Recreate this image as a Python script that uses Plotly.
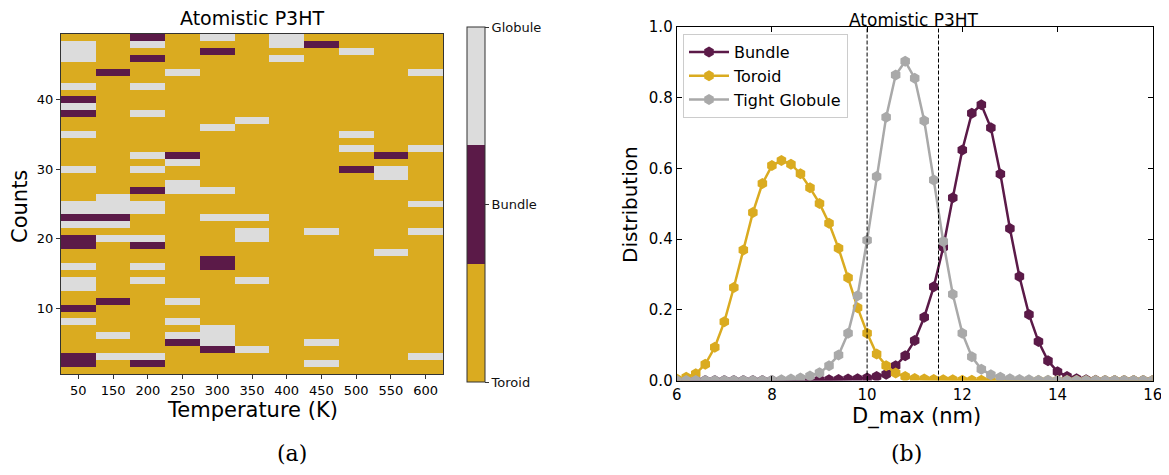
import plotly.graph_objects as go

# ---------------- data: panel (a) ----------------
temperatures = ["50", "150", "200", "250", "300", "350", "400", "450", "500", "550", "600"]
state_labels = ["Toroid", "Bundle", "Globule"]
state_code = {"T": 0, "B": 1, "G": 2}
# one string per count (top row = count 49), one character per temperature column
state_rows = [
    "TTBTGTGTTTT",  # 49
    "GTGTTTGBTTT",  # 48
    "GTTTBTTTGTT",  # 47
    "GTBTTTGTTTT",  # 46
    "TTTTTTTTTTT",  # 45
    "TBTGTTTTTTG",  # 44
    "TTTTTTTTTTT",  # 43
    "GTGTTTTTTTT",  # 42
    "TTTTTTTTTTT",  # 41
    "BTTTTTTTTTT",  # 40
    "GTTTTTTTTTT",  # 39
    "BTGTTTTTTTT",  # 38
    "TTTTTGTTTTT",  # 37
    "TTTTGTTTTTT",  # 36
    "GTTTTTTTGTT",  # 35
    "TTTTTTTTTTT",  # 34
    "TTTTTTTTGTG",  # 33
    "TTGBTTTTTBT",  # 32
    "TTTGTTTTTTT",  # 31
    "GTGTTTTTBGT",  # 30
    "TTTTTTTTTGT",  # 29
    "TTTGTTTTTTT",  # 28
    "TTBGGTTTTTT",  # 27
    "TGTTTTTTTTT",  # 26
    "GGGTTTTTTTG",  # 25
    "GGGTTTTTTTT",  # 24
    "BBTTGGTTTTT",  # 23
    "GGTTTTTTTTT",  # 22
    "TTTTTGTGTTG",  # 21
    "BGGTTGTTTTT",  # 20
    "BTBTTTTTTTT",  # 19
    "TTTTTTTTTGT",  # 18
    "TTTTBTTTTTT",  # 17
    "GTGTBTTTTTT",  # 16
    "TTTTTTTTTTT",  # 15
    "GTGTTGTTTTT",  # 14
    "GTTTTTTTTTT",  # 13
    "TTTTTTTTTTT",  # 12
    "TBTGTTTTTTT",  # 11
    "BTTTTTTTTTT",  # 10
    "TTTTTTTTTTT",  # 9
    "GTTGTTTTTTT",  # 8
    "TTTTGTTTTTT",  # 7
    "TGTGGTTTTTT",  # 6
    "TTTBGTTGTTT",  # 5
    "TTTTBGTTTTT",  # 4
    "BGGTTTTTTTG",  # 3
    "BTBTTTTGTTT",  # 2
    "TTTTTTTTTTT",  # 1
]
counts = list(range(49, 0, -1))

# ---------------- data: panel (b) ----------------
d_max = [6.0, 6.2, 6.4, 6.6, 6.8, 7.0, 7.2, 7.4, 7.6, 7.8,
         8.0, 8.2, 8.4, 8.6, 8.8, 9.0, 9.2, 9.4, 9.6, 9.8,
         10.0, 10.2, 10.4, 10.6, 10.8, 11.0, 11.2, 11.4, 11.6, 11.8,
         12.0, 12.2, 12.4, 12.6, 12.8, 13.0, 13.2, 13.4, 13.6, 13.8,
         14.0, 14.2, 14.4, 14.6, 14.8, 15.0, 15.2, 15.4, 15.6, 15.8, 16.0]
bundle = [0, 0, 0, 0, 0, 0, 0, 0, 0, 0,
          0, 0, 0, 0.001, 0.001, 0.002, 0.002, 0.003, 0.004, 0.005,
          0.007, 0.011, 0.018, 0.042, 0.07, 0.113, 0.179, 0.265, 0.377, 0.517,
          0.652, 0.756, 0.780, 0.715, 0.584, 0.43, 0.294, 0.187, 0.11, 0.056,
          0.025, 0.011, 0.005, 0.002, 0.001, 0, 0, 0, 0, 0, 0]
toroid = [0.004, 0.009, 0.019, 0.046, 0.094, 0.166, 0.263, 0.369, 0.475, 0.557,
          0.608, 0.622, 0.612, 0.585, 0.545, 0.501, 0.445, 0.374, 0.291, 0.206,
          0.134, 0.075, 0.042, 0.021, 0.011, 0.006, 0.004, 0.003, 0.002, 0.002,
          0.001, 0.001, 0.001, 0, 0, 0, 0, 0, 0, 0,
          0, 0, 0, 0, 0, 0, 0, 0, 0, 0, 0]
tight_globule = [0, 0, 0, 0, 0, 0, 0, 0, 0, 0,
                 0.001, 0.002, 0.004, 0.007, 0.013, 0.022, 0.042, 0.072, 0.134, 0.24,
                 0.397, 0.577, 0.745, 0.864, 0.903, 0.855, 0.735, 0.567, 0.393, 0.244,
                 0.134, 0.067, 0.032, 0.016, 0.009, 0.005, 0.003, 0.002, 0.001, 0.001,
                 0, 0, 0, 0, 0, 0, 0, 0, 0, 0, 0]
cutoffs = [10.0, 11.5]

# ---------------- styles / geometry ----------------
GOLD = "#DAAB20"
PURPLE = "#5B1A48"
LIGHT = "#DCDCDC"
GREY = "#A9A9A9"
FONT = "DejaVu Sans"
PAGE_W, PAGE_H = 1169, 475
BODY = 8                      # default page margin around the figure
W, H = PAGE_W - 2 * BODY, PAGE_H - 2 * BODY


def fx(px):  # page pixel -> paper x
    return (px - BODY) / W


def fy(py):  # page pixel (from top) -> paper y
    return (H - (py - BODY)) / H


z = [[state_code[c] for c in row] for row in state_rows]

fig = go.Figure()

fig.add_trace(go.Heatmap(
    x=temperatures, y=counts, z=z, zmin=0, zmax=2,
    colorscale=[[0, GOLD], [1/3, GOLD], [1/3, PURPLE], [2/3, PURPLE], [2/3, LIGHT], [1, LIGHT]],
    xaxis="x", yaxis="y",
    colorbar=dict(
        tickvals=[0, 1, 2], ticktext=state_labels,
        x=fx(466.7), xanchor="left", xpad=0, ypad=0,
        y=fy(204.5), yanchor="middle", len=355 / H, lenmode="fraction",
        thickness=18, outlinewidth=1, outlinecolor="#333",
        ticks="outside", ticklen=4, tickcolor="#333",
        tickfont=dict(family=FONT, size=13, color="#111"),
    ),
    showscale=True,
))

for name, vals, col in [("Bundle", bundle, PURPLE), ("Toroid", toroid, GOLD), ("Tight Globule", tight_globule, GREY)]:
    fig.add_trace(go.Scatter(
        x=d_max, y=vals, name=name, mode="lines+markers",
        line=dict(color=col, width=2.5),
        marker=dict(symbol="hexagon", size=11, color=col, line=dict(width=0)),
        xaxis="x2", yaxis="y2",
    ))

for c in cutoffs:
    fig.add_shape(type="line", xref="x2", yref="y2 domain", x0=c, x1=c, y0=0, y1=1,
                  line=dict(color="black", width=1, dash="4px,2px"))


def ann(text, x, y, size, angle=0, family=FONT):
    fig.add_annotation(text=text, x=fx(x), y=fy(y), xref="paper", yref="paper",
                       showarrow=False, textangle=angle, xanchor="center", yanchor="middle",
                       font=dict(family=family, size=size, color="black"))


ann("Atomistic P3HT", 252, 18, 19)
ann("Atomistic P3HT", 914, 20, 17)
ann("Counts", 20, 207, 21, -90)
ann("Temperature (K)", 252, 410, 21)
ann("Distribution", 630, 205, 20, -90)
ann("D_max (nm)", 917, 416, 21)
ann("(a)", 292, 453, 22, family="DejaVu Serif")
ann("(b)", 906, 453, 22, family="DejaVu Serif")

fig.update_layout(
    width=W, height=H, autosize=False,
    margin=dict(l=0, r=0, t=0, b=0, pad=0, autoexpand=False),
    plot_bgcolor="white", paper_bgcolor="white",
    font=dict(family=FONT, color="black"),
    xaxis=dict(domain=[fx(61), fx(443)], type="category", anchor="y",
               ticks="outside", ticklen=4, tickcolor="#333",
               showline=True, mirror=True, linecolor="#333", linewidth=1,
               showgrid=False, zeroline=False, tickfont=dict(size=13)),
    yaxis=dict(domain=[fy(374), fy(34)], anchor="x", range=[0.5, 49.5],
               tickvals=[10, 20, 30, 40], ticks="outside", ticklen=4, tickcolor="#333",
               showline=True, mirror=True, linecolor="#333", linewidth=1,
               showgrid=False, zeroline=False, tickfont=dict(size=13)),
    xaxis2=dict(domain=[fx(676.7), fx(1152.7)], anchor="y2", range=[6, 16], dtick=2, tick0=6,
                ticks="inside", ticklen=5, tickcolor="black", ticklabeloverflow="allow",
                showline=True, mirror="allticks", linecolor="black", linewidth=1,
                showgrid=False, zeroline=False, tickfont=dict(size=15)),
    yaxis2=dict(domain=[fy(380.5), fy(27)], anchor="x2", range=[0, 1], dtick=0.2,
                tickformat=".1f", ticks="inside", ticklen=5, tickcolor="black",
                showline=True, mirror="allticks", linecolor="black", linewidth=1,
                showgrid=False, zeroline=False, tickfont=dict(size=15)),
    legend=dict(x=fx(683), y=fy(34), xanchor="left", yanchor="top",
                bgcolor="rgba(255,255,255,0.9)", bordercolor="#cccccc", borderwidth=1,
                font=dict(family=FONT, size=16), tracegroupgap=0, itemwidth=40),
    showlegend=True,
)

fig.write_html("out.html", config={"displayModeBar": False, "responsive": False})
